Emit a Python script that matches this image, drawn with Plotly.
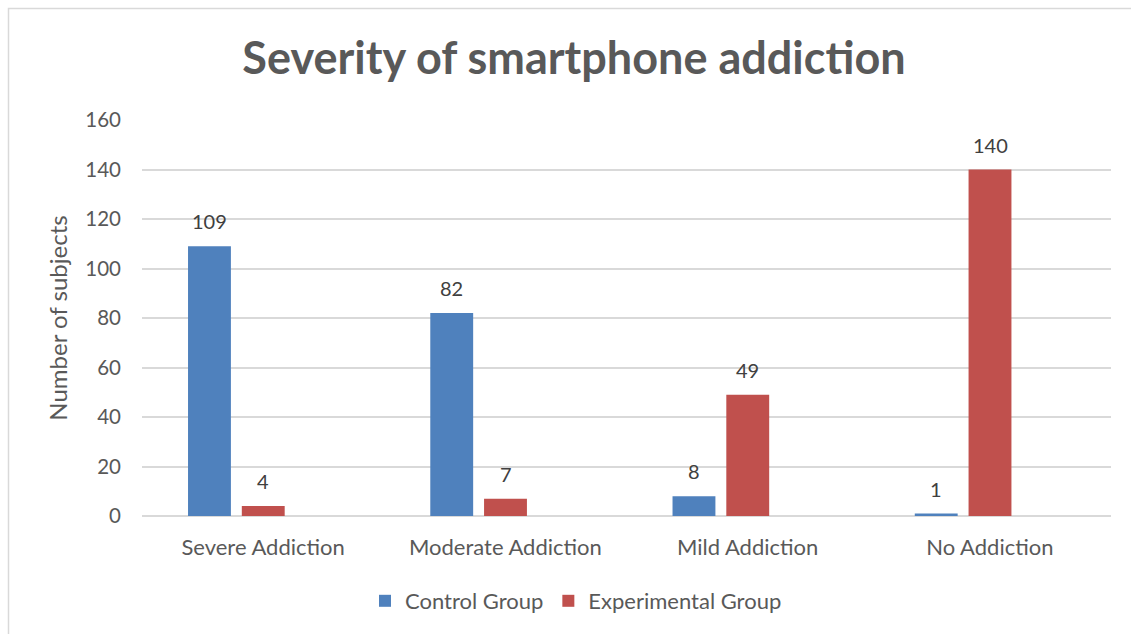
import plotly.graph_objects as go

categories = ["Severe Addiction", "Moderate Addiction", "Mild Addiction", "No Addiction"]
control = [109, 82, 8, 1]
experimental = [4, 7, 49, 140]
series_names = ["Control Group", "Experimental Group"]
colors = ["#4F81BD", "#C0504D"]
y_ticks = [0, 20, 40, 60, 80, 100, 120, 140, 160]

FONT = "Lato"
BAR_W = 0.177
offsets = [-0.31, -0.088]
px_per_cat = 969 / 4

fig = go.Figure()
for name, vals, col, off in zip(series_names, [control, experimental], colors, offsets):
    fig.add_trace(go.Bar(
        x=categories, y=vals, name=name,
        marker=dict(color=col, line=dict(width=0)),
        width=BAR_W, offset=off,
    ))

annotations = []
for vals, off in zip([control, experimental], offsets):
    shift = (off + BAR_W / 2) * px_per_cat
    for c, v in zip(categories, vals):
        annotations.append(dict(
            x=c, y=v, xref="x", yref="y", text=str(v), showarrow=False,
            xshift=shift, yshift=25, yanchor="middle",
            font=dict(family=FONT, size=20, color="#404040"),
        ))

fig.update_layout(
    width=1131, height=634,
    margin=dict(l=142, r=20, t=120, b=118),
    paper_bgcolor="white", plot_bgcolor="white",
    barmode="overlay",
    title=dict(text="<b>Severity of smartphone addiction</b>",
               x=574 / 1131, xanchor="center", y=1 - 58 / 634, yanchor="middle",
               font=dict(family=FONT, size=45, color="#595959")),
    xaxis=dict(showgrid=False, showline=False, ticks="", ticklabelstandoff=16,
               tickfont=dict(family=FONT, size=22, color="#595959")),
    yaxis=dict(range=[0, 160], tickvals=y_ticks, showgrid=True,
               gridcolor="#D9D9D9", gridwidth=1.5, zeroline=True,
               zerolinecolor="#D9D9D9", zerolinewidth=2,
               ticks="", ticklabelstandoff=20,
               tickfont=dict(family=FONT, size=20.5, color="#595959"),
               title=dict(text="Number of subjects", standoff=10,
                          font=dict(family=FONT, size=24, color="#595959"))),
    legend=dict(orientation="h", x=576 / 1131, xref="container", xanchor="center",
                y=1 - 601 / 634, yref="container", yanchor="middle",
                font=dict(family=FONT, size=22, color="#595959"),
                traceorder="normal", itemwidth=30),
    annotations=annotations,
    shapes=[dict(type="rect", xref="paper", yref="paper",
                 x0=(8.5 - 142) / 969, x1=(1140 - 142) / 969,
                 y0=(516 - 645) / 396, y1=(516 - 8.5) / 396,
                 line=dict(color="#D9D9D9", width=1.5), layer="below")],
    showlegend=True,
)

fig.write_html("out.html")
